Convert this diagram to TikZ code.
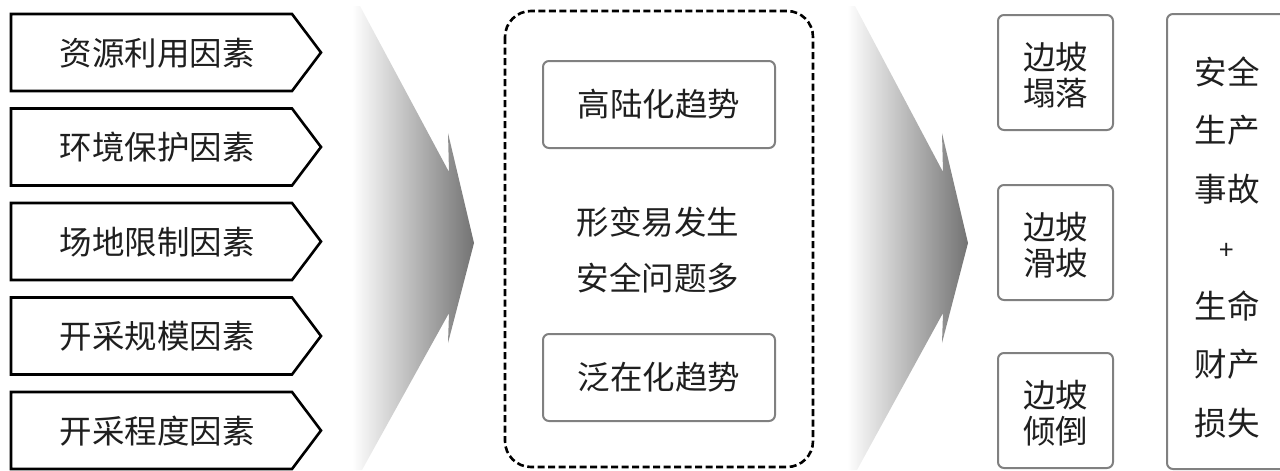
\documentclass[tikz,border=0pt]{standalone}
\usepackage{fontspec}
\setmainfont{Noto Sans CJK SC}
\begin{document}
\begin{tikzpicture}[x=1pt,y=-1pt,
  txt/.style={text=black!88,font=\fontsize{32.5}{36}\selectfont,inner sep=0pt,align=center},
  pent/.style={draw=black,line width=2.6pt,line join=miter,fill=white},
  gbox/.style={draw=black!50,line width=2pt,rounded corners=6pt,fill=white},
  dbox/.style={draw=black,line width=2.6pt,dash pattern=on 7pt off 3.5pt,rounded corners=26pt},
  grad/.style={left color=white,right color=black!55}]
\clip (0,0) rectangle (1280,471);
\useasboundingbox (0,0) rectangle (1280,471);
% left factor pentagons
\foreach \t/\n in {14/1,108.5/2,203/3,297.5/4,392/5}{
  \draw[pent] (11,\t) -- (292,\t) -- (321,\t+38.5) -- (292,\t+77) -- (11,\t+77) -- cycle;
}
\node[txt] (f1) at (157,53) {资源利用因素};
\node[txt] (f2) at (157,147.5) {环境保护因素};
\node[txt] (f3) at (157,242) {场地限制因素};
\node[txt] (f4) at (157,336.5) {开采规模因素};
\node[txt] (f5) at (157,431) {开采程度因素};
% gradient arrows
\shade[grad] (352,6) -- (360,6) -- (449,172) -- (448,133) -- (474,243) -- (448,343) -- (449,313) -- (362,470) -- (352,470) -- cycle;
\shade[grad] (847,6) -- (855,6) -- (943,172) -- (942,133) -- (968,243) -- (942,343) -- (943,313) -- (857,470) -- (847,470) -- cycle;
% middle dashed box
\draw[dbox] (505,11) rectangle (813,467);
\draw[gbox] (543,61) rectangle (775,148);
\node[txt] (t1) at (659,104.5) {高陆化趋势};
\node[txt] (m1) at (658,222) {形变易发生};
\node[txt] (m2) at (658,278) {安全问题多};
\draw[gbox] (543,334) rectangle (775,421);
\node[txt] (t2) at (659,377.5) {泛在化趋势};
% right boxes
\draw[gbox] (998,15) rectangle (1113,130);
\node[txt] (r1) at (1055.5,75) {边坡\\塌落};
\draw[gbox] (998,185) rectangle (1113,300);
\node[txt] (r2) at (1055.5,245) {边坡\\滑坡};
\draw[gbox] (998,353) rectangle (1113,468);
\node[txt] (r3) at (1055.5,413) {边坡\\倾倒};
\draw[gbox] (1167,14) rectangle (1300,469);
\node[txt,font=\fontsize{32.5}{58.5}\selectfont] (res) at (1227,247.5) {安全\\生产\\事故\\{\fontsize{26}{58.5}\selectfont +}\\生命\\财产\\损失};
\end{tikzpicture}
\end{document}
